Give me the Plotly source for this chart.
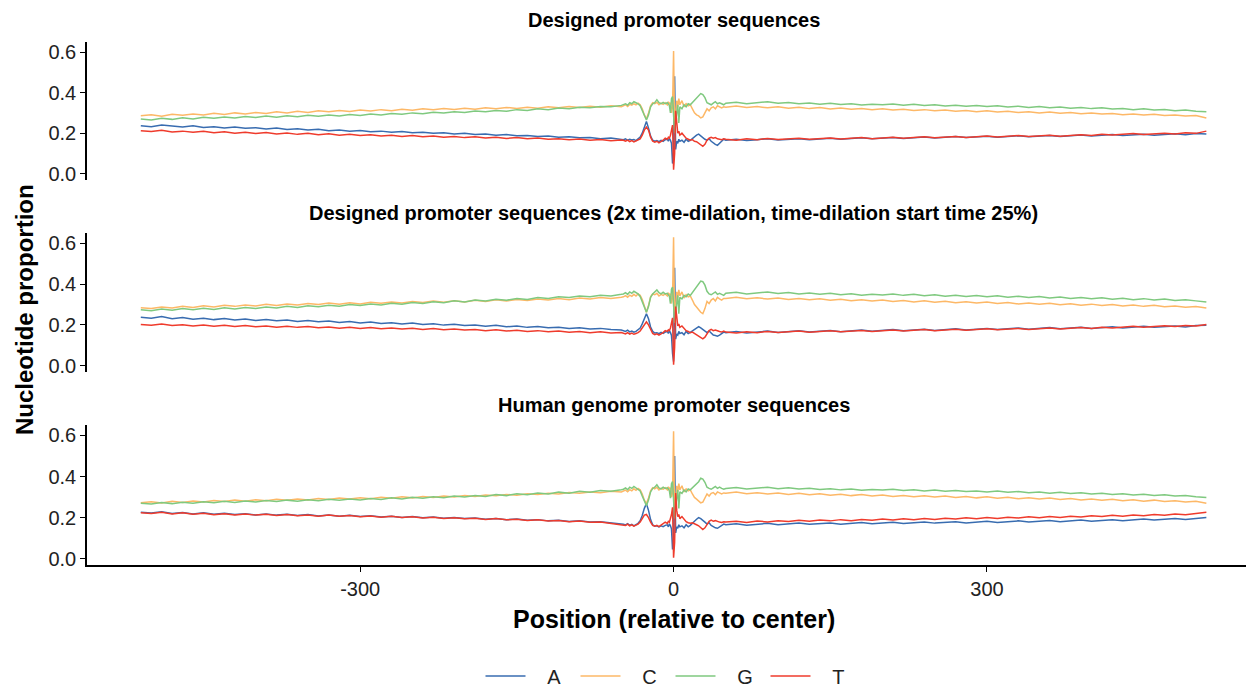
import plotly.graph_objects as go

# ---------------- positions (relative to center) ----------------
POS = (list(range(-510, -49, 10)) + list(range(-48, -7, 2)) + list(range(-6, 7))
       + list(range(8, 49, 2)) + list(range(50, 511, 10)))

NUCS = ["A", "C", "G", "T"]
PANEL_TITLES = [
    "Designed promoter sequences",
    "Designed promoter sequences (2x time-dilation, time-dilation start time 25%)",
    "Human genome promoter sequences",
]

# ---------------- Panel 1: Designed promoter sequences ----------------
A1_left = [.237,.232,.240,.235,.230,.236,.228,.232,.226,.230,
           .224,.227,.220,.225,.218,.222,.215,.219,.212,.216,
           .210,.213,.207,.210,.204,.208,.202,.205,.199,.202,
           .196,.199,.193,.196,.190,.193,.187,.189,.183,.186,
           .180,.182,.177,.179,.173,.176,.170]
A1_cl = [.168,.172,.165,.170,.166,.169,.163,.172,.180,.200,.235,.258,.225,.185,.165,.160,.163,.158,.165,.160,.168]
A1_core = [.170,.160,.175,.165,.150,.050,.100,.480,.120,.160,.150,.170,.160]
A1_cr = [.165,.155,.170,.160,.165,.175,.185,.190,.195,.185,.180,.170,.165,.172,.160,.150,.145,.140,.148,.160,.170]
A1_right = [.165,.170,.164,.168,.172,.166,.170,.173,.168,.172,
            .175,.170,.174,.177,.172,.176,.179,.174,.178,.181,
            .176,.180,.183,.178,.182,.185,.180,.184,.187,.182,
            .186,.189,.184,.188,.191,.186,.190,.193,.188,.192,
            .195,.190,.194,.197,.192,.198,.196]

C1_left = [.286,.291,.284,.293,.288,.295,.290,.298,.292,.300,
           .295,.302,.297,.305,.300,.308,.302,.310,.305,.312,
           .307,.314,.309,.316,.311,.318,.313,.320,.315,.322,
           .317,.323,.318,.325,.320,.327,.322,.328,.323,.330,
           .325,.331,.326,.333,.328,.335,.330]
C1_cl = [.335,.340,.332,.342,.338,.345,.340,.348,.340,.320,.290,.270,.300,.335,.350,.345,.352,.340,.348,.342,.350]
C1_core = [.340,.355,.345,.350,.300,.330,.605,.220,.300,.360,.330,.370,.340]
C1_cr = [.360,.330,.345,.335,.340,.320,.300,.290,.285,.275,.280,.300,.320,.310,.325,.330,.320,.335,.330,.325,.330]
C1_right = [.328,.334,.326,.331,.325,.330,.323,.328,.321,.326,
            .319,.324,.318,.322,.316,.320,.314,.318,.312,.316,
            .310,.314,.308,.312,.306,.310,.304,.308,.302,.306,
            .300,.304,.298,.302,.296,.300,.294,.297,.291,.295,
            .289,.293,.287,.290,.284,.287,.275]

G1_left = [.270,.265,.273,.268,.276,.270,.278,.273,.280,.275,
           .282,.277,.284,.279,.286,.281,.288,.283,.290,.285,
           .292,.287,.294,.290,.297,.293,.300,.296,.303,.299,
           .306,.302,.309,.305,.312,.308,.316,.312,.320,.316,
           .324,.320,.328,.325,.332,.330,.337]
G1_cl = [.340,.345,.338,.350,.345,.355,.350,.345,.335,.310,.285,.265,.290,.330,.345,.350,.365,.350,.345,.352,.345]
G1_core = [.350,.345,.335,.300,.370,.380,.270,.200,.260,.300,.340,.250,.330]
G1_cr = [.320,.340,.330,.345,.340,.350,.360,.370,.380,.395,.390,.375,.350,.345,.340,.348,.355,.345,.350,.345,.340]
G1_right = [.348,.352,.345,.350,.355,.347,.351,.345,.349,.343,
            .347,.341,.345,.339,.343,.340,.344,.338,.342,.336,
            .340,.334,.338,.333,.336,.331,.335,.329,.333,.327,
            .331,.325,.329,.323,.327,.321,.325,.319,.322,.316,
            .320,.314,.317,.311,.314,.308,.305]

T1_left = [.212,.208,.214,.206,.210,.204,.209,.202,.207,.200,
           .205,.198,.203,.196,.201,.194,.199,.192,.197,.190,
           .194,.188,.192,.186,.190,.184,.188,.182,.186,.180,
           .184,.178,.182,.176,.180,.174,.178,.172,.176,.170,
           .173,.168,.171,.165,.169,.163,.166]
T1_cl = [.165,.160,.166,.158,.163,.157,.162,.165,.172,.190,.215,.230,.215,.180,.160,.155,.160,.152,.158,.165,.175]
T1_core = [.170,.180,.175,.190,.210,.240,.020,.100,.310,.230,.200,.210,.190]
T1_cr = [.200,.185,.175,.170,.165,.168,.160,.158,.150,.140,.135,.145,.165,.175,.180,.175,.178,.172,.170,.168,.172]
T1_right = [.170,.165,.172,.168,.174,.169,.171,.175,.170,.173,
            .176,.171,.175,.178,.173,.177,.180,.175,.179,.182,
            .177,.181,.184,.179,.183,.186,.181,.185,.188,.183,
            .187,.190,.185,.189,.192,.188,.195,.191,.194,.198,
            .193,.197,.200,.196,.202,.199,.210]

# ---------------- Panel 2: time-dilation ----------------
A2_left = [.238,.233,.241,.230,.236,.228,.233,.226,.231,.224,
           .229,.222,.226,.220,.224,.217,.222,.215,.219,.212,
           .217,.210,.214,.207,.211,.205,.209,.202,.206,.199,
           .203,.197,.200,.194,.198,.191,.195,.188,.192,.186,
           .189,.183,.186,.180,.183,.177,.175]
A2_cl = [.172,.168,.174,.166,.170,.164,.168,.175,.185,.205,.235,.255,.230,.190,.168,.160,.162,.157,.163,.158,.165]
A2_core = [.168,.158,.172,.162,.148,.060,.020,.480,.130,.155,.150,.168,.158]
A2_cr = [.162,.152,.168,.158,.163,.170,.180,.188,.192,.185,.178,.170,.162,.170,.158,.150,.148,.145,.150,.158,.165]
A2_right = [.162,.168,.160,.166,.170,.163,.168,.171,.165,.170,
            .173,.167,.172,.175,.169,.174,.177,.171,.176,.179,
            .173,.178,.181,.175,.180,.183,.177,.182,.185,.179,
            .184,.187,.181,.186,.189,.183,.188,.191,.185,.190,
            .193,.188,.192,.195,.190,.197,.198]

C2_left = [.284,.280,.288,.283,.291,.285,.294,.288,.296,.291,
           .298,.293,.301,.295,.303,.298,.305,.300,.308,.302,
           .309,.303,.311,.306,.313,.308,.315,.310,.317,.311,
           .319,.313,.321,.315,.323,.318,.325,.320,.327,.322,
           .330,.324,.332,.327,.334,.330,.336]
C2_cl = [.338,.344,.336,.346,.340,.350,.342,.352,.345,.325,.290,.262,.295,.338,.352,.348,.355,.342,.350,.345,.352]
C2_core = [.342,.358,.348,.352,.305,.335,.630,.210,.305,.362,.335,.372,.342]
C2_cr = [.362,.332,.348,.338,.342,.322,.300,.288,.275,.262,.255,.280,.315,.305,.322,.330,.318,.335,.328,.322,.330]
C2_right = [.330,.336,.328,.333,.327,.332,.325,.330,.323,.328,
            .321,.326,.319,.324,.317,.322,.315,.320,.313,.318,
            .311,.316,.309,.314,.307,.312,.305,.310,.303,.308,
            .301,.306,.299,.304,.297,.302,.295,.300,.293,.298,
            .291,.296,.289,.293,.287,.290,.283]

G2_left = [.275,.270,.278,.272,.280,.274,.282,.276,.284,.278,
           .286,.280,.288,.283,.291,.286,.294,.289,.297,.292,
           .300,.295,.303,.298,.306,.301,.310,.305,.314,.309,
           .318,.313,.322,.317,.326,.321,.330,.325,.334,.330,
           .338,.334,.342,.338,.346,.342,.350]
G2_cl = [.352,.358,.350,.362,.355,.365,.358,.352,.340,.315,.285,.262,.290,.335,.352,.360,.372,.358,.352,.360,.352]
G2_core = [.355,.350,.340,.305,.375,.385,.275,.210,.265,.305,.345,.255,.335]
G2_cr = [.328,.345,.338,.352,.345,.358,.372,.385,.400,.415,.412,.395,.365,.352,.348,.355,.362,.350,.355,.350,.345]
G2_right = [.355,.360,.352,.358,.362,.354,.359,.352,.357,.350,
            .355,.348,.353,.346,.351,.347,.352,.345,.350,.343,
            .348,.341,.346,.340,.344,.338,.343,.336,.341,.334,
            .339,.332,.337,.330,.335,.328,.333,.326,.331,.324,
            .329,.322,.327,.320,.324,.318,.312]

T2_left = [.202,.198,.204,.197,.201,.195,.200,.194,.198,.192,
           .197,.191,.195,.189,.194,.188,.192,.186,.190,.184,
           .189,.183,.187,.181,.185,.180,.184,.178,.182,.176,
           .180,.175,.178,.172,.176,.170,.174,.168,.172,.166,
           .170,.164,.168,.162,.166,.160,.163]
T2_cl = [.160,.156,.162,.155,.160,.154,.158,.162,.170,.185,.205,.215,.200,.175,.158,.152,.156,.150,.155,.162,.172]
T2_core = [.168,.176,.172,.185,.205,.235,.005,.090,.290,.225,.195,.205,.188]
T2_cr = [.195,.182,.172,.168,.162,.165,.158,.155,.148,.138,.132,.140,.160,.172,.178,.172,.175,.170,.168,.165,.170]
T2_right = [.165,.160,.167,.162,.168,.163,.166,.170,.164,.168,
            .171,.166,.170,.173,.168,.172,.175,.170,.174,.177,
            .172,.176,.179,.174,.178,.181,.176,.180,.183,.178,
            .182,.185,.180,.184,.187,.183,.188,.185,.190,.193,
            .189,.193,.196,.192,.197,.195,.202]

# ---------------- Panel 3: Human genome promoter sequences ----------------
A3_left = [.226,.222,.228,.220,.225,.218,.223,.216,.221,.215,
           .219,.213,.218,.212,.216,.210,.215,.208,.213,.207,
           .211,.205,.209,.203,.207,.201,.205,.199,.203,.197,
           .200,.195,.198,.192,.196,.190,.193,.187,.190,.184,
           .187,.181,.184,.178,.180,.175,.170]
A3_cl = [.168,.164,.170,.162,.167,.160,.165,.172,.185,.210,.245,.268,.235,.190,.165,.158,.160,.155,.160,.156,.162]
A3_core = [.165,.155,.170,.160,.145,.045,.080,.500,.125,.155,.148,.165,.155]
A3_cr = [.160,.150,.165,.155,.162,.170,.182,.192,.200,.195,.188,.178,.168,.175,.162,.155,.150,.148,.155,.162,.168]
A3_right = [.165,.170,.163,.168,.172,.165,.169,.173,.167,.171,
            .174,.168,.172,.176,.170,.174,.177,.171,.175,.179,
            .173,.177,.180,.174,.178,.182,.176,.180,.184,.178,
            .182,.186,.180,.184,.188,.182,.187,.190,.185,.189,
            .193,.188,.192,.196,.191,.197,.200]

C3_left = [.272,.277,.271,.279,.274,.281,.276,.283,.278,.285,
           .280,.287,.282,.289,.284,.291,.286,.293,.288,.295,
           .290,.297,.292,.299,.294,.301,.296,.303,.298,.305,
           .300,.307,.303,.310,.306,.313,.309,.316,.312,.319,
           .315,.322,.318,.325,.321,.328,.325]
C3_cl = [.328,.334,.326,.336,.330,.340,.333,.342,.335,.315,.285,.268,.295,.330,.345,.340,.348,.335,.342,.338,.345]
C3_core = [.335,.350,.340,.345,.300,.320,.620,.200,.295,.355,.325,.365,.335]
C3_cr = [.355,.325,.340,.330,.335,.315,.298,.290,.282,.272,.275,.295,.315,.305,.318,.322,.312,.325,.320,.315,.320]
C3_right = [.318,.324,.316,.321,.315,.320,.313,.318,.311,.316,
            .309,.314,.307,.312,.305,.310,.303,.308,.301,.306,
            .300,.305,.298,.303,.296,.301,.294,.299,.292,.297,
            .290,.295,.288,.293,.286,.291,.284,.289,.282,.287,
            .280,.285,.278,.282,.276,.279,.270]

G3_left = [.270,.266,.273,.268,.275,.270,.277,.272,.279,.274,
           .281,.276,.283,.278,.285,.280,.287,.282,.289,.284,
           .291,.286,.293,.288,.296,.291,.299,.294,.302,.297,
           .305,.300,.308,.303,.312,.307,.316,.311,.320,.315,
           .324,.319,.328,.323,.332,.328,.336]
G3_cl = [.338,.344,.336,.348,.342,.352,.346,.340,.330,.305,.278,.258,.285,.325,.342,.348,.360,.345,.340,.348,.342]
G3_core = [.345,.340,.330,.295,.365,.375,.265,.195,.255,.295,.335,.245,.325]
G3_cr = [.318,.335,.325,.340,.335,.345,.355,.365,.375,.392,.388,.372,.348,.342,.338,.345,.352,.342,.348,.342,.338]
G3_right = [.342,.346,.339,.344,.348,.341,.345,.339,.343,.337,
            .341,.335,.339,.333,.337,.334,.338,.332,.336,.330,
            .334,.328,.332,.327,.330,.325,.329,.323,.327,.321,
            .325,.319,.323,.317,.321,.315,.319,.313,.316,.310,
            .314,.308,.311,.305,.308,.302,.298]

T3_left = [.224,.220,.226,.218,.223,.216,.221,.214,.219,.213,
           .218,.212,.216,.210,.215,.209,.213,.207,.212,.206,
           .210,.204,.208,.202,.206,.200,.204,.198,.202,.196,
           .199,.194,.197,.191,.195,.189,.192,.186,.189,.183,
           .186,.180,.183,.177,.179,.173,.168]
T3_cl = [.166,.162,.168,.160,.165,.158,.163,.168,.178,.195,.212,.215,.200,.178,.162,.158,.162,.156,.162,.168,.178]
T3_core = [.172,.182,.178,.192,.215,.250,.005,.080,.320,.235,.205,.215,.195]
T3_cr = [.205,.190,.180,.175,.172,.175,.168,.165,.160,.150,.142,.150,.170,.182,.188,.182,.185,.180,.178,.176,.180]
T3_right = [.178,.182,.176,.183,.179,.185,.181,.187,.182,.188,
            .184,.190,.185,.191,.187,.193,.188,.194,.190,.196,
            .191,.197,.193,.199,.194,.200,.196,.202,.198,.204,
            .199,.205,.201,.207,.203,.209,.205,.211,.207,.213,
            .209,.215,.211,.218,.214,.221,.226]

# ---------------- assemble ----------------
g = globals()
panels = []
for p in (1, 2, 3):
    d = {}
    for n in NUCS:
        vals = (g[f"{n}{p}_left"] + g[f"{n}{p}_cl"] + g[f"{n}{p}_core"]
                + g[f"{n}{p}_cr"] + g[f"{n}{p}_right"])
        assert len(vals) == len(POS), (n, p, len(vals), len(POS))
        d[n] = vals
    panels.append(d)

COLORS = {"A": "#386cb0", "C": "#fdb867", "G": "#7fc97f", "T": "#ef3b2c"}
FONT = "Liberation Sans, Arial, sans-serif"

# The page body has an 8px default margin, so the figure is drawn 8px smaller
# and all target pixel positions are shifted by OFF.
OFF = 8
W, H = 1254 - OFF, 689 - OFF
L_MARGIN = 87 - OFF
fig = go.Figure()

for i, d in enumerate(panels, start=1):
    sx = "" if i == 1 else str(i)
    for n in NUCS:
        fig.add_trace(go.Scatter(
            x=POS, y=d[n], mode="lines", name="\u00a0\u00a0\u00a0" + n,
            legendgroup=n, showlegend=(i == 1),
            line=dict(color=COLORS[n], width=1.5),
            xaxis="x" + sx, yaxis="y" + sx, hoverinfo="skip"))

def py(pix):
    return 1 - (pix - OFF) / H

domains = [(py(180), py(41.7)), (py(372), py(233)), (py(565), py(425))]
XR = [-561.5, 555.6]

yax = dict(range=[-0.031, 0.651], tickvals=[0, 0.2, 0.4, 0.6],
           ticktext=["0.0", "0.2", "0.4", "0.6"],
           showline=True, linecolor="black", linewidth=1.6,
           ticks="outside", ticklen=5, tickcolor="black", tickwidth=1.4,
           showgrid=False, zeroline=False,
           tickfont=dict(family=FONT, size=20, color="#222222"))

layout = dict(width=W, height=H, paper_bgcolor="white", plot_bgcolor="white",
              margin=dict(l=L_MARGIN, r=0, t=0, b=0, autoexpand=False),
              font=dict(family=FONT, color="black"),
              showlegend=True,
              legend=dict(orientation="h", x=0.5, xanchor="center",
                          y=py(676), yanchor="middle",
                          font=dict(family=FONT, size=20, color="#222222"),
                          itemwidth=40, entrywidth=40, traceorder="normal"))

for i in (1, 2, 3):
    sx = "" if i == 1 else str(i)
    ya = dict(yax)
    ya["domain"] = list(domains[i - 1])
    ya["anchor"] = "x" + sx
    layout["yaxis" + sx] = ya
    xa = dict(range=XR, domain=[0, 1], anchor="y" + sx, showgrid=False,
              zeroline=False)
    if i < 3:
        xa.update(showline=False, showticklabels=False, ticks="")
    else:
        xa.update(showline=True, linecolor="black", linewidth=1.6,
                  ticks="outside", ticklen=5, tickcolor="black", tickwidth=1.4,
                  tickvals=[-300, 0, 300], ticktext=["-300", "0", "300"],
                  tickfont=dict(family=FONT, size=20, color="#222222"))
    layout["xaxis" + sx] = xa

fig.update_layout(**layout)

title_y = [20, 213, 405]
for t, yy in zip(PANEL_TITLES, title_y):
    fig.add_annotation(text=f"<b>{t}</b>", x=0, xref="x3", y=py(yy), yref="paper",
                       showarrow=False, xanchor="center", yanchor="middle",
                       font=dict(family=FONT, size=20, color="black"))

fig.add_annotation(text="<b>Position (relative to center)</b>", x=0, xref="x3",
                   y=py(619), yref="paper", showarrow=False,
                   xanchor="center", yanchor="middle",
                   font=dict(family=FONT, size=25, color="black"))
fig.add_annotation(text="<b>Nucleotide proportion</b>", textangle=-90,
                   x=(24 - 87) / (W - L_MARGIN), xref="paper",
                   y=py(310), yref="paper", showarrow=False,
                   xanchor="center", yanchor="middle",
                   font=dict(family=FONT, size=24, color="black"))

fig.write_html("out.html")
